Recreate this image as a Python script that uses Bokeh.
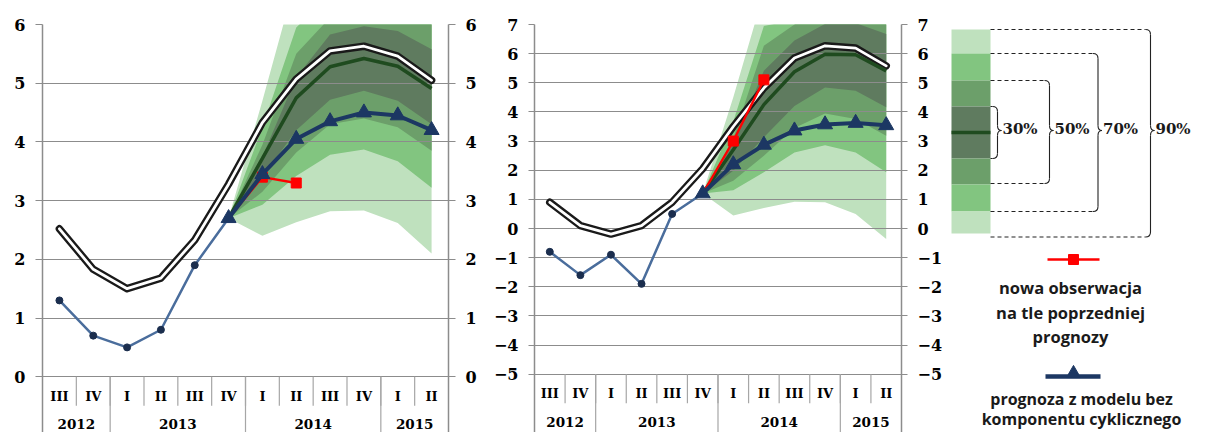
import numpy as np
from bokeh.plotting import figure
from bokeh.layouts import row
from bokeh.models import Range1d, FixedTicker, LinearAxis
from bokeh.embed import file_html
from bokeh.resources import INLINE
from bokeh.core.properties import value

# ---------------- data ----------------
quarters = ["III", "IV", "I", "II", "III", "IV", "I", "II", "III", "IV", "I", "II"]
years = ["2012", "2013", "2014", "2015"]
year_spans = [2, 4, 4, 2]

# left chart
l_hist = [1.3, 0.7, 0.5, 0.8, 1.9, 2.7]
l_prev = [2.52, 1.83, 1.5, 1.68, 2.33, 3.28, 4.33, 5.07, 5.55, 5.63, 5.46, 5.05]
l_central = [2.7, 3.72, 4.75, 5.28, 5.42, 5.29, 4.91]
l_model = [2.7, 3.45, 4.05, 4.35, 4.5, 4.45, 4.2]
l_new = [2.7, 3.4, 3.3]
l_lo90 = [2.7, 2.4, 2.63, 2.82, 2.83, 2.62, 2.1]
l_lo70 = [2.7, 2.93, 3.42, 3.78, 3.87, 3.67, 3.22]
l_lo50 = [2.7, 3.15, 3.82, 4.3, 4.4, 4.25, 3.85]
l_lo30 = [2.7, 3.4, 4.2, 4.72, 4.87, 4.7, 4.3]
l_hi30 = [2.7, 3.75, 5.1, 5.83, 5.97, 5.89, 5.58]
l_hi50 = [2.7, 3.95, 5.5, 6.12, 6.3, 6.3, 6.1]
l_hi70 = [2.7, 4.25, 5.95, 6.5, 6.9, 6.9, 6.7]
l_hi90 = [2.7, 4.7, 6.8, 7.4, 7.5, 7.5, 7.3]
l_ticks = [0, 1, 2, 3, 4, 5, 6]

# right chart
r_hist = [-0.8, -1.6, -0.9, -1.9, 0.5, 1.2]
r_prev = [0.9, 0.1, -0.19, 0.1, 0.9, 2.05, 3.5, 4.82, 5.85, 6.27, 6.19, 5.58]
r_central = [1.2, 2.7, 4.25, 5.38, 5.98, 5.96, 5.41]
r_model = [1.2, 2.2, 2.87, 3.36, 3.57, 3.62, 3.54]
r_new = [1.2, 3.0, 5.1]
r_lo90 = [1.2, 0.45, 0.7, 0.92, 0.9, 0.5, -0.36]
r_lo70 = [1.2, 1.31, 1.93, 2.61, 2.86, 2.61, 1.93]
r_lo50 = [1.2, 1.64, 2.5, 3.45, 3.95, 3.76, 3.18]
r_lo30 = [1.2, 1.98, 3.13, 4.2, 4.84, 4.73, 4.16]
r_hi30 = [1.2, 2.9, 5.41, 6.45, 7.02, 7.05, 6.67]
r_hi50 = [1.2, 3.1, 6.27, 7.0, 7.5, 7.5, 7.3]
r_hi70 = [1.2, 3.67, 6.95, 7.15, 7.9, 7.9, 7.7]
r_hi90 = [1.2, 4.5, 8.1, 8.6, 8.8, 8.8, 8.5]
r_ticks = list(range(-5, 8))

legend_pcts = ["30%", "50%", "70%", "90%"]
legend_new = ["nowa obserwacja", "na tle poprzedniej", "prognozy"]
legend_model = ["prognoza z modelu bez", "komponentu cyklicznego"]

# ---------------- style ----------------
C_LIGHT = "#bfe1be"
C_MIDL = "#82c580"
C_MED = "#6c9f6a"
C_DARK = "#5f7b5f"
C_CENTRAL = "#1f4b1f"
C_HIST = "#4a6d9c"
C_HIST_MK = "#1b2e4e"
C_MODEL = "#1c3763"
C_RED = "#ff0000"
GRID = "#8c8c8c"
SERIF = "DejaVu Serif"

FRAME_TOP = 24
HEIGHT = 432


def make_chart(width, bl, br, ymin, ymax, ticks, hist, prev, central, model, new,
               bands, tick_out):
    p = figure(width=width, height=HEIGHT, x_range=Range1d(-0.5, 11.5),
               y_range=Range1d(ymin, ymax), toolbar_location=None,
               output_backend="svg", x_axis_location=None, y_axis_location="left",
               min_border_left=bl, min_border_right=br, min_border_top=FRAME_TOP,
               min_border_bottom=0)
    p.outline_line_color = None
    p.xgrid.visible = False
    p.ygrid.ticker = FixedTicker(ticks=ticks)
    p.ygrid.grid_line_color = GRID
    p.ygrid.grid_line_width = 1.2

    ax_r = LinearAxis()
    p.add_layout(ax_r, "right")
    for ax in p.yaxis:
        ax.ticker = FixedTicker(ticks=ticks)
        ax.axis_line_color = GRID
        ax.axis_line_width = 1.5
        ax.major_tick_line_color = GRID
        ax.major_tick_line_width = 1.2
        ax.major_tick_out = tick_out
        ax.major_tick_in = 0
        ax.minor_tick_line_color = None
        ax.major_label_text_font = SERIF
        ax.major_label_text_font_style = "bold"
        ax.major_label_text_font_size = "16px"
        ax.major_label_text_color = "black"
        ax.major_label_standoff = 10

    # pixel -> data conversion for the category band under the plot
    upp = (ymax - ymin) / (HEIGHT - FRAME_TOP)
    base = ticks[0]

    xf = list(range(5, 12))
    lo90, lo70, lo50, lo30, hi30, hi50, hi70, hi90 = bands
    for lo, hi, col in [(lo90, hi90, C_LIGHT), (lo70, hi70, C_MIDL),
                        (lo50, hi50, C_MED), (lo30, hi30, C_DARK)]:
        p.varea(x=xf, y1=lo, y2=hi, fill_color=col, fill_alpha=1.0, level="image")

    # category axis (two levels)
    n = len(quarters)
    p.segment(x0=[k + 0.5 for k in range(n - 1)], y0=[base] * (n - 1),
              x1=[k + 0.5 for k in range(n - 1)], y1=[base - 29 * upp] * (n - 1),
              line_color="#a6a6a6", line_width=1.2)
    bounds = list(np.cumsum(year_spans)[:-1] - 0.5)
    p.segment(x0=bounds, y0=[base] * len(bounds), x1=bounds, y1=[ymin] * len(bounds),
              line_color="#a6a6a6", line_width=1.2)
    p.text(x=list(range(n)), y=[base - 19.5 * upp] * n, text=quarters,
           text_font=value(SERIF), text_font_style="bold", text_font_size="13px",
           text_align="center", text_baseline="middle", text_color="black")
    starts = np.concatenate([[0], np.cumsum(year_spans)[:-1]])
    ycent = [s + (w - 1) / 2 for s, w in zip(starts, year_spans)]
    p.text(x=ycent, y=[base - 47.5 * upp] * len(years), text=years,
           text_font=value(SERIF), text_font_style="bold", text_font_size="13.5px",
           text_align="center", text_baseline="middle", text_color="black")

    # series
    xh = list(range(len(hist)))
    p.line(xh, hist, line_color=C_HIST, line_width=2.5)
    p.scatter(xh[:-1], hist[:-1], marker="circle", size=7, fill_color=C_HIST_MK,
              line_color=C_HIST_MK)
    xp = list(range(len(prev)))
    p.line(xp, prev, line_color="#1a1a1a", line_width=7.5, line_join="round",
           line_cap="round")
    p.line(xp, prev, line_color="white", line_width=2.8, line_join="round",
           line_cap="round")
    p.line(xf, central, line_color=C_CENTRAL, line_width=3.5)
    xn = list(range(5, 5 + len(new)))
    p.line(xn, new, line_color=C_RED, line_width=2.3)
    p.scatter(xn[1:], new[1:], marker="square", size=10, fill_color=C_RED,
              line_color=C_RED)
    p.line(xf, model, line_color=C_MODEL, line_width=4)
    p.scatter(xf, model, marker="triangle", size=15, fill_color=C_MODEL,
              line_color=C_MODEL)
    return p


p1 = make_chart(490, 42, 42, -0.95, 6, l_ticks, l_hist, l_prev, l_central, l_model,
                l_new, [l_lo90, l_lo70, l_lo50, l_lo30, l_hi30, l_hi50, l_hi70, l_hi90], 7)
p2 = make_chart(455, 43, 42, -7.0, 7, r_ticks, r_hist, r_prev, r_central, r_model,
                r_new, [r_lo90, r_lo70, r_lo50, r_lo30, r_hi30, r_hi50, r_hi70, r_hi90], 6)

# ---------------- legend panel (data units = page pixels) ----------------
L = figure(width=260, height=HEIGHT, x_range=Range1d(0, 260),
           y_range=Range1d(HEIGHT, FRAME_TOP), toolbar_location=None,
           output_backend="svg", x_axis_location=None, y_axis_location=None,
           min_border_left=0, min_border_right=0, min_border_top=FRAME_TOP,
           min_border_bottom=0)
L.outline_line_color = None
L.grid.visible = False

band_edges = [29, 53, 80, 106, 158, 184, 211, 233]
band_cols = [C_LIGHT, C_MIDL, C_MED, C_DARK, C_MED, C_MIDL, C_LIGHT]
L.quad(left=[6] * 7, right=[45] * 7, top=band_edges[:-1], bottom=band_edges[1:],
       fill_color=band_cols, line_color=None)
L.segment(x0=[6], y0=[132], x1=[45], y1=[132], line_color=C_CENTRAL, line_width=3.5)

# braces: (top, bottom, vertical x, dashed arms)
braces = [(106, 158, 52, False), (80, 183, 104, True), (53, 211, 152.5, True),
          (29, 236.5, 205, True)]
ym = 130
r = 5
t = 4
for (yt, yb, xv, dashed) in braces:
    dash = "4 3" if dashed else "solid"
    L.segment(x0=[45, 45], y0=[yt, yb], x1=[xv - r, xv - r], y1=[yt, yb],
              line_color="#222222", line_width=1.1, line_dash=dash)
    L.quadratic(x0=[xv - r, xv, xv + t, xv], y0=[yt, ym - r, ym, yb - r],
                x1=[xv, xv + t, xv, xv - r], y1=[yt + r, ym, ym + r, yb],
                cx=[xv, xv, xv, xv], cy=[yt, ym, ym, yb],
                line_color="#222222", line_width=1.1)
    L.segment(x0=[xv, xv], y0=[yt + r, ym + r], x1=[xv, xv], y1=[ym - r, yb - r],
              line_color="#222222", line_width=1.1)

L.text(x=[b[2] + t + 1 for b in braces], y=[128] * 4, text=legend_pcts,
       text_font=value(SERIF), text_font_style="bold", text_font_size="15px",
       text_align="left", text_baseline="middle", text_color="#1a1a1a")

# red marker legend
L.line([102, 154], [259, 259], line_color=C_RED, line_width=2.5)
L.scatter([128], [259], marker="square", size=10, fill_color=C_RED, line_color=C_RED)
L.text(x=[125] * 3, y=[287, 312, 336], text=legend_new, text_font=value("Open Sans"),
       text_font_style="bold", text_font_size="16.5px", text_align="center",
       text_baseline="middle", text_color="#1a1a1a")

# model legend
L.line([100, 155], [376, 376], line_color=C_MODEL, line_width=4.5)
L.scatter([128], [373], marker="triangle", size=14, fill_color=C_MODEL, line_color=C_MODEL)
L.text(x=[136] * 2, y=[398, 418], text=legend_model, text_font=value("Open Sans"),
       text_font_style="bold", text_font_size="16px", text_align="center",
       text_baseline="middle", text_color="#1a1a1a")

layout = row(p1, p2, L, spacing=0)
open("out.html", "w").write(file_html(layout, INLINE))
